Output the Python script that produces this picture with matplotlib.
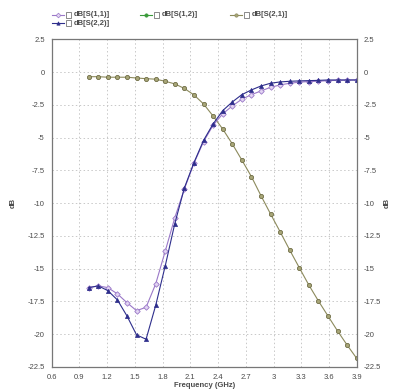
import matplotlib
matplotlib.use('Agg')
import matplotlib.pyplot as plt
from matplotlib.lines import Line2D

plt.rcParams['font.family'] = ['Liberation Sans', 'DejaVu Sans']

# Frequency sweep (GHz)
freq = [1.0, 1.104, 1.207, 1.311, 1.414, 1.518, 1.621, 1.725, 1.829, 1.932,
        2.036, 2.139, 2.243, 2.346, 2.45, 2.554, 2.657, 2.761, 2.864, 2.968,
        3.071, 3.175, 3.279, 3.382, 3.486, 3.589, 3.693, 3.796, 3.9]

s11 = [-16.44, -16.31, -16.44, -16.92, -17.59, -18.2, -17.94, -16.16, -13.64, -11.1,
       -8.9, -6.95, -5.3, -4.05, -3.18, -2.57, -2.06, -1.71, -1.43, -1.15,
       -0.97, -0.84, -0.76, -0.71, -0.69, -0.64, -0.62, -0.6, -0.59]

s21 = [-0.34, -0.34, -0.38, -0.38, -0.38, -0.44, -0.49, -0.53, -0.69, -0.89,
       -1.24, -1.73, -2.42, -3.34, -4.33, -5.47, -6.7, -7.97, -9.42, -10.82,
       -12.17, -13.57, -14.92, -16.24, -17.46, -18.6, -19.75, -20.82, -21.84]

s22 = [-16.44, -16.31, -16.67, -17.38, -18.6, -20.05, -20.38, -17.8, -14.76, -11.55,
       -8.82, -6.9, -5.2, -3.95, -2.93, -2.27, -1.71, -1.35, -1.05, -0.84,
       -0.74, -0.69, -0.66, -0.64, -0.62, -0.59, -0.59, -0.59, -0.59]

xticks = [0.6, 0.9, 1.2, 1.5, 1.8, 2.1, 2.4, 2.7, 3.0, 3.3, 3.6, 3.9]
xtick_labels = ['0.6', '0.9', '1.2', '1.5', '1.8', '2.1', '2.4', '2.7', '3', '3.3', '3.6', '3.9']
yticks = [2.5, 0, -2.5, -5, -7.5, -10, -12.5, -15, -17.5, -20, -22.5]
ytick_labels = ['2.5', '0', '-2.5', '-5', '-7.5', '-10', '-12.5', '-15', '-17.5', '-20', '-22.5']

c11 = '#9a78c8'
c12 = '#3a9a3a'
c21 = '#8c8a5c'
c22 = '#2e2e8c'
txt = '#4a4a4a'

fig = plt.figure(figsize=(3.93, 3.91), dpi=100)
ax = fig.add_axes([0.1316, 0.0614, 0.776, 0.8376])

ax.plot(freq, s21, color=c21, lw=0.8, marker='o', ms=3.0, mfc='#a8a678', mec='#6e6c44', mew=0.6)
ax.plot(freq, s11, color=c11, lw=0.8, marker='D', ms=2.8, mfc='#e2d4f2', mec=c11, mew=0.6)
ax.plot(freq, s22, color=c22, lw=0.8, marker='^', ms=3.0, mfc=c22, mec=c22, mew=0.5)

ax.set_xlim(0.6, 3.9)
ax.set_ylim(-22.5, 2.5)
ax.set_xticks(xticks)
ax.set_xticklabels(xtick_labels)
ax.set_yticks(yticks)
ax.set_yticklabels(ytick_labels)
ax.grid(True, color='#c8c8c8', linestyle=(0, (1.5, 2.5)), lw=0.7)
ax.tick_params(axis='both', length=0, labelsize=5.5, labelcolor=txt, pad=5)
ax.tick_params(axis='y', right=True, labelright=True)
for sp in ax.spines.values():
    sp.set_color('#777777')
    sp.set_linewidth(0.9)

ax.set_xlabel('Frequency (GHz)', fontsize=5.5, fontweight='bold', color=txt, labelpad=1)
ax.set_ylabel('dB', fontsize=5.5, fontweight='bold', color=txt, labelpad=8)
fig.text(0.985, 0.48, 'dB', rotation=90, fontsize=5.5, fontweight='bold', color=txt,
         ha='center', va='center')

# legend at the top
entries = [
    ('dB[S(1,1)]', c11, 'D', '#e2d4f2', 0.132, 0.962),
    ('dB[S(1,2)]', c12, 'o', c12, 0.356, 0.962),
    ('dB[S(2,1)]', c21, 'o', '#a8a678', 0.585, 0.962),
    ('dB[S(2,2)]', c22, '^', c22, 0.132, 0.941),
]
for label, col, mk, mfc, x0, y0 in entries:
    fig.add_artist(Line2D([x0, x0 + 0.03], [y0, y0], color=col, lw=0.8,
                          transform=fig.transFigure))
    fig.add_artist(Line2D([x0 + 0.015], [y0], color=col, marker=mk, ms=2.4,
                          mfc=mfc, mec=col, mew=0.5, transform=fig.transFigure))
    fig.add_artist(plt.Rectangle((x0 + 0.035, y0 - 0.008), 0.014, 0.016, fill=False,
                                 ec='#777777', lw=0.6, transform=fig.transFigure))
    fig.text(x0 + 0.055, y0, label, fontsize=5.5, fontweight='bold', color=txt,
             ha='left', va='center')

fig.savefig('out.png', dpi=100)
